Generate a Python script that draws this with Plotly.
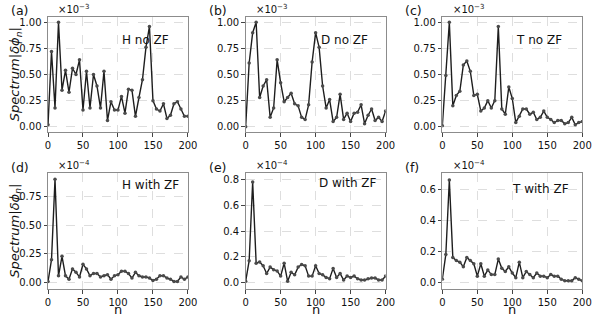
import plotly.graph_objects as go

n = list(range(0, 201, 5))

h_no_zf = [0.02, 0.72, 0.18, 1.00, 0.35, 0.54, 0.33, 0.56, 0.50, 0.64, 0.16, 0.53, 0.18, 0.50, 0.39,
           0.18, 0.53, 0.06, 0.24, 0.16, 0.16, 0.29, 0.13, 0.36, 0.35, 0.10, 0.28, 0.45, 0.76, 0.96,
           0.25, 0.17, 0.15, 0.22, 0.08, 0.11, 0.22, 0.24, 0.17, 0.10, 0.10]
d_no_zf = [0.00, 0.61, 0.90, 1.00, 0.28, 0.39, 0.45, 0.09, 0.18, 0.64, 0.42, 0.24, 0.28, 0.32, 0.22,
           0.20, 0.09, 0.07, 0.21, 0.62, 0.90, 0.76, 0.39, 0.18, 0.26, 0.05, 0.09, 0.31, 0.07, 0.13,
           0.05, 0.13, 0.14, 0.21, 0.03, 0.11, 0.17, 0.06, 0.09, 0.05, 0.15]
t_no_zf = [0.01, 0.49, 1.00, 0.20, 0.30, 0.34, 0.59, 0.63, 0.53, 0.30, 0.31, 0.15, 0.18, 0.25, 0.18,
           0.25, 0.96, 0.17, 0.12, 0.38, 0.27, 0.04, 0.10, 0.17, 0.17, 0.12, 0.14, 0.07, 0.09, 0.15,
           0.09, 0.07, 0.04, 0.06, 0.06, 0.03, 0.04, 0.09, 0.02, 0.04, 0.05]
h_with_zf = [0.01, 0.20, 0.90, 0.06, 0.23, 0.06, 0.03, 0.12, 0.09, 0.05, 0.16, 0.12, 0.06, 0.08, 0.08,
             0.05, 0.06, 0.07, 0.03, 0.06, 0.07, 0.10, 0.10, 0.08, 0.04, 0.09, 0.06, 0.05, 0.05, 0.04,
             0.02, 0.03, 0.06, 0.06, 0.04, 0.03, 0.01, 0.01, 0.05, 0.03, 0.05]
d_with_zf = [0.01, 0.17, 0.78, 0.15, 0.16, 0.13, 0.07, 0.12, 0.10, 0.09, 0.05, 0.15, 0.01, 0.08, 0.06,
             0.12, 0.14, 0.13, 0.05, 0.05, 0.13, 0.07, 0.06, 0.04, 0.03, 0.11, 0.04, 0.07, 0.02, 0.05,
             0.04, 0.05, 0.03, 0.02, 0.02, 0.03, 0.035, 0.035, 0.02, 0.02, 0.05]
t_with_zf = [0.02, 0.18, 0.66, 0.16, 0.14, 0.13, 0.10, 0.16, 0.14, 0.12, 0.04, 0.12, 0.04, 0.08, 0.05,
             0.05, 0.15, 0.09, 0.07, 0.10, 0.06, 0.03, 0.13, 0.03, 0.07, 0.05, 0.03, 0.06, 0.04, 0.04,
             0.03, 0.05, 0.04, 0.04, 0.02, 0.01, 0.01, 0.01, 0.03, 0.02, 0.01]

series = [h_no_zf, d_no_zf, t_no_zf, h_with_zf, d_with_zf, t_with_zf]
titles = ["H no ZF", "D no ZF", "T no ZF", "H with ZF", "D with ZF", "T with ZF"]
letters = ["(a)", "(b)", "(c)", "(d)", "(e)", "(f)"]
scales = ["×10<sup>−3</sup>"] * 3 + ["×10<sup>−4</sup>"] * 3
x_ticks = [0, 50, 100, 150, 200]
y_ticks = [[0, 0.25, 0.5, 0.75, 1.0]] * 3 + [[0, 0.25, 0.5, 0.75], [0, 0.2, 0.4, 0.6, 0.8], [0, 0.2, 0.4, 0.6]]
y_fmt = [".2f"] * 4 + [".1f"] * 2
y_ranges = [[-0.05, 1.05]] * 3 + [[-0.055, 0.955], [-0.05, 0.85], [-0.043, 0.705]]

W, H = 604, 318
col_px = [(46, 189), (248, 391), (449, 592)]
row_px = [(17, 132), (173, 289)]
txt_pos = [(0.88, 0.80), (0.89, 0.80), (0.87, 0.80), (0.95, 0.90), (0.95, 0.91), (0.92, 0.86)]

FONT = "DejaVu Sans"
fig = go.Figure()
annotations = []
for i in range(6):
    r, c = divmod(i, 3)
    ax = "" if i == 0 else str(i + 1)
    xa, ya = "xaxis" + ax, "yaxis" + ax
    x0, x1 = col_px[c]
    y0, y1 = row_px[r]
    fig.add_trace(go.Scatter(
        x=n, y=series[i], mode="lines+markers", xaxis="x" + ax, yaxis="y" + ax,
        line=dict(color="#1e1e1e", width=1.4),
        marker=dict(color="#4a4a4a", size=3.5), showlegend=False))
    common = dict(showline=True, linecolor="#8c8c8c", linewidth=1, mirror=True,
                  ticks="outside", ticklen=3.5, tickcolor="#444", tickwidth=1,
                  showgrid=True, gridcolor="#dedede", griddash="dash", gridwidth=1,
                  zeroline=False, tickfont=dict(family=FONT, size=10, color="#111"))
    fig.layout[xa] = dict(domain=[x0 / W, x1 / W], range=[0, 200], tickvals=x_ticks,
                          anchor="y" + ax, **common)
    fig.layout[ya] = dict(domain=[1 - y1 / H, 1 - y0 / H], range=y_ranges[i], tickvals=y_ticks[i],
                          tickformat=y_fmt[i], anchor="x" + ax, **common)
    annotations.append(dict(text=titles[i], xref="x" + ax + " domain", yref="y" + ax + " domain",
                            x=txt_pos[i][0], y=txt_pos[i][1], xanchor="right", yanchor="middle",
                            showarrow=False, font=dict(family=FONT, size=12, color="#111")))
    annotations.append(dict(text=scales[i], xref="x" + ax + " domain", yref="y" + ax + " domain",
                            x=0.06, y=1.0, xanchor="left", yanchor="bottom", showarrow=False,
                            font=dict(family=FONT, size=10, color="#111")))
    annotations.append(dict(text=letters[i], xref="paper", yref="paper",
                            x=(x0 - 40) / W, y=1 - (y0 - 6) / H, xanchor="left", yanchor="middle",
                            showarrow=False, font=dict(family=FONT, size=12.5, color="#111")))

for r in range(2):
    y0, y1 = row_px[r]
    annotations.append(dict(text="<i>Spectrum</i>|<i>δϕ</i><sub><i>n</i></sub>|", xref="paper", yref="paper",
                            x=13 / W, y=1 - ((y0 + y1) / 2) / H, textangle=-90,
                            xanchor="center", yanchor="middle", showarrow=False,
                            font=dict(family=FONT, size=13, color="#111")))
for c in range(3):
    x0, x1 = col_px[c]
    annotations.append(dict(text="n", xref="paper", yref="paper", x=((x0 + x1) / 2) / W,
                            y=1 - 309 / H, xanchor="center", yanchor="middle", showarrow=False,
                            font=dict(family=FONT, size=13, color="#111")))

fig.update_layout(width=W, height=H, margin=dict(l=0, r=0, t=0, b=0),
                  paper_bgcolor="white", plot_bgcolor="white", annotations=annotations)
fig.write_html("out.html", config={"displayModeBar": False, "responsive": False},
               post_script="document.documentElement.style.margin='0';document.body.style.margin='0';"
                           "document.body.style.padding='0';document.body.style.overflow='hidden';window.scrollTo(0,0);")
